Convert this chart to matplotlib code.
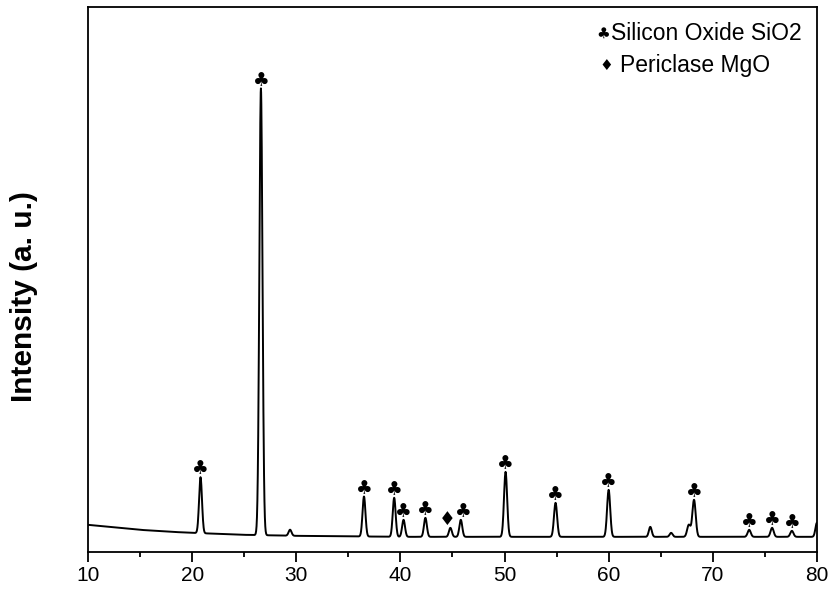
import numpy as np
import matplotlib
matplotlib.use("Agg")
import matplotlib.pyplot as plt
from matplotlib.ticker import MultipleLocator

plt.rcParams['font.family'] = ['Liberation Sans', 'DejaVu Sans']

# background level (2theta, intensity)
bg_x = [10, 12, 15, 18, 20, 25, 30, 40, 50, 60, 70, 80]
bg_y = [27, 25, 22, 20, 19, 17, 16, 15, 15, 15, 15, 15]

# reflections: position (2theta), height above background, width (sigma)
peak_pos = [20.8, 26.6, 29.4, 36.5, 39.4, 40.3, 42.4, 44.8, 45.8, 50.1,
            54.9, 60.0, 64.0, 66.0, 67.7, 68.2, 73.5, 75.7, 77.6, 80.0]
peak_h = [56, 447, 6, 40, 39, 17, 19, 9, 17, 65,
          34, 47, 10, 4, 12, 37, 7, 9, 6, 14]
peak_w = [0.14, 0.15, 0.14, 0.14, 0.14, 0.14, 0.14, 0.14, 0.14, 0.15,
          0.15, 0.15, 0.14, 0.14, 0.16, 0.16, 0.15, 0.15, 0.15, 0.14]

# phase markers
sio2_pos = [20.8, 26.6, 36.5, 39.4, 40.3, 42.4, 45.8, 50.1, 54.9, 60.0,
            68.2, 73.5, 75.7, 77.6]
mgo_pos = [44.8]

x = np.arange(10, 80.001, 0.02)
y = np.interp(x, bg_x, bg_y)
for p, h, w in zip(peak_pos, peak_h, peak_w):
    y = y + h * np.exp(-0.5 * ((x - p) / w) ** 2)

fig = plt.figure(figsize=(8.31, 5.94), dpi=100)
ax = fig.add_axes([0.106, 0.071, 0.877, 0.917])
ax.plot(x, y, color='black', lw=1.4)

def level(p):
    m = np.abs(x - p) < 0.3
    return y[m].max()

for p in sio2_pos:
    dx = 1.5 if p == 45.8 else 0
    ax.annotate('\u2663', (p, level(p)), xytext=(dx, -1), textcoords='offset points',
                ha='center', va='bottom', fontsize=13.5, color='black',
                family=['DejaVu Sans'])
for p in mgo_pos:
    ax.annotate('\u2666', (p, level(p)), xytext=(-2.5, -1), textcoords='offset points',
                ha='center', va='bottom', fontsize=13.5, color='black',
                family=['DejaVu Sans'])

# legend drawn as text
ax.text(0.707, 0.952, '\u2663', transform=ax.transAxes, fontsize=11,
        va='center', ha='center', family=['DejaVu Sans'])
ax.text(0.717, 0.952, 'Silicon Oxide SiO2', transform=ax.transAxes,
        fontsize=16.5, va='center', ha='left')
ax.text(0.711, 0.892, '\u2666', transform=ax.transAxes, fontsize=11,
        va='center', ha='center', family=['DejaVu Sans'])
ax.text(0.730, 0.892, 'Periclase MgO', transform=ax.transAxes,
        fontsize=16.5, va='center', ha='left')

ax.set_xlim(10, 80)
ax.set_ylim(0, 545)
ax.set_yticks([])
ax.xaxis.set_major_locator(MultipleLocator(10))
ax.xaxis.set_minor_locator(MultipleLocator(5))
ax.tick_params(axis='x', which='major', direction='out', length=7, width=1.3,
               labelsize=15)
ax.tick_params(axis='x', which='minor', direction='out', length=3.5, width=1.3)
for s in ax.spines.values():
    s.set_linewidth(1.3)
ax.set_ylabel('Intensity (a. u.)', fontsize=21.5, fontweight='bold')
ax.yaxis.set_label_coords(-0.069, 0.468)

fig.savefig('out.png', dpi=100)
